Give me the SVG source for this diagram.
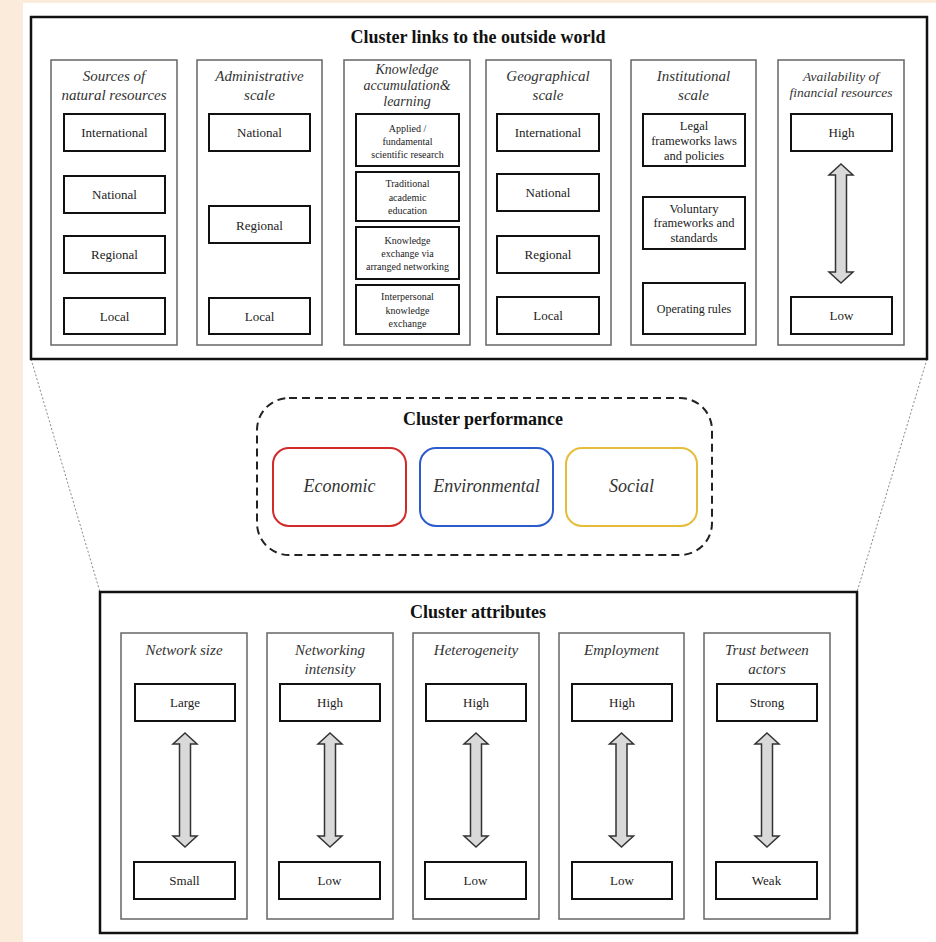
<svg xmlns="http://www.w3.org/2000/svg" width="936" height="942" viewBox="0 0 936 942">
<style>
text{font-family:"Liberation Serif","Times New Roman",serif;fill:#222;text-anchor:middle}
.title{font-weight:bold;font-size:18px;fill:#111}
.ct{font-style:italic;font-size:15px;fill:#333}
.bx{font-size:13px}
.sm{font-size:10px}
.md{font-size:12.5px}
.outer{fill:#fff;stroke:#111;stroke-width:2.5}
.col{fill:#fff;stroke:#666;stroke-width:1.5}
.box{fill:#fff;stroke:#111;stroke-width:2}
.arr{fill:#d9d9d9;stroke:#333;stroke-width:1.5;stroke-linejoin:miter}
.perf{fill:#fff;stroke-width:2}
.pt{font-style:italic;font-size:18px;fill:#333}
.conn{stroke:#888;stroke-width:1;stroke-dasharray:2 2;fill:none}
</style>
<rect x="0" y="0" width="936" height="942" fill="#fbebdb"/>
<rect x="23" y="3" width="913" height="939" fill="#fff"/>

<g id="connectors">
<line class="conn" x1="31" y1="359" x2="100" y2="592"/>
<line class="conn" x1="927" y1="359" x2="857" y2="592"/>
</g>

<g id="links">
<rect class="outer" x="31" y="17" width="896" height="342"/>
<text class="title" x="478" y="43">Cluster links to the outside world</text>
</g>

<g id="col-sources">
<rect class="col" x="51" y="60" width="126" height="285"/>
<text class="ct" x="114" y="81">Sources of</text>
<text class="ct" x="114" y="100">natural resources</text>
<rect class="box" x="64" y="114" width="101" height="37"/><text class="bx" x="114.5" y="137">International</text>
<rect class="box" x="64" y="176" width="101" height="37"/><text class="bx" x="114.5" y="199">National</text>
<rect class="box" x="64" y="236" width="101" height="37"/><text class="bx" x="114.5" y="259">Regional</text>
<rect class="box" x="64" y="298" width="101" height="36"/><text class="bx" x="114.5" y="320.5">Local</text>
</g>

<g id="col-admin">
<rect class="col" x="197" y="60" width="125" height="285"/>
<text class="ct" x="259.5" y="81">Administrative</text>
<text class="ct" x="259.5" y="100">scale</text>
<rect class="box" x="209" y="114" width="101" height="37"/><text class="bx" x="259.5" y="137">National</text>
<rect class="box" x="209" y="206" width="101" height="37"/><text class="bx" x="259.5" y="229.5">Regional</text>
<rect class="box" x="209" y="298" width="101" height="36"/><text class="bx" x="259.5" y="320.5">Local</text>
</g>

<g id="col-knowledge">
<rect class="col" x="344" y="60" width="126" height="285"/>
<text class="ct" x="407" y="74" style="font-size:14px">Knowledge</text>
<text class="ct" x="407" y="90" style="font-size:14px">accumulation&amp;</text>
<text class="ct" x="407" y="106" style="font-size:14px">learning</text>
<rect class="box" x="356" y="114" width="103" height="52"/>
<text class="sm" x="407.5" y="131.5">Applied /</text>
<text class="sm" x="407.5" y="145">fundamental</text>
<text class="sm" x="407.5" y="157.5">scientific  research</text>
<rect class="box" x="356" y="172" width="103" height="49"/>
<text class="sm" x="407.5" y="187">Traditional</text>
<text class="sm" x="407.5" y="201">academic</text>
<text class="sm" x="407.5" y="214">education</text>
<rect class="box" x="356" y="227" width="103" height="52"/>
<text class="sm" x="407.5" y="243.5">Knowledge</text>
<text class="sm" x="407.5" y="257">exchange  via</text>
<text class="sm" x="407.5" y="269.5">arranged networking</text>
<rect class="box" x="356" y="285" width="103" height="49"/>
<text class="sm" x="407.5" y="299.5">Interpersonal</text>
<text class="sm" x="407.5" y="313.5">knowledge</text>
<text class="sm" x="407.5" y="327">exchange</text>
</g>

<g id="col-geo">
<rect class="col" x="486" y="60" width="125" height="285"/>
<text class="ct" x="548" y="81">Geographical</text>
<text class="ct" x="548" y="100">scale</text>
<rect class="box" x="497" y="114" width="102" height="37"/><text class="bx" x="548" y="137">International</text>
<rect class="box" x="497" y="174" width="102" height="37"/><text class="bx" x="548" y="197">National</text>
<rect class="box" x="497" y="236" width="102" height="37"/><text class="bx" x="548" y="259">Regional</text>
<rect class="box" x="497" y="297" width="102" height="37"/><text class="bx" x="548" y="320">Local</text>
</g>

<g id="col-inst">
<rect class="col" x="631" y="60" width="125" height="285"/>
<text class="ct" x="693.5" y="81">Institutional</text>
<text class="ct" x="693.5" y="100">scale</text>
<rect class="box" x="643" y="114" width="102" height="52"/>
<text class="md" x="694" y="130">Legal</text>
<text class="md" x="694" y="144.5">frameworks laws</text>
<text class="md" x="694" y="159.5">and policies</text>
<rect class="box" x="643" y="197" width="102" height="52"/>
<text class="md" x="694" y="212.5">Voluntary</text>
<text class="md" x="694" y="227">frameworks and</text>
<text class="md" x="694" y="242">standards</text>
<rect class="box" x="643" y="283" width="102" height="51"/>
<text class="md" x="694" y="312.5" style="font-size:12px">Operating rules</text>
</g>

<g id="col-finance">
<rect class="col" x="778" y="60" width="126" height="285"/>
<text class="ct" x="841" y="80.5" style="font-size:13.5px">Availability of</text>
<text class="ct" x="841" y="96.5" style="font-size:13.5px">financial resources</text>
<rect class="box" x="791" y="114" width="101" height="37"/><text class="bx" x="841.5" y="137">High</text>
<path class="arr" d="M841 164 L853 175 L846.5 175 L846.5 272 L853 272 L841 283 L829 272 L835.5 272 L835.5 175 L829 175 Z"/>
<rect class="box" x="791" y="297" width="101" height="37"/><text class="bx" x="841.5" y="320">Low</text>
</g>

<g id="performance">
<rect x="257" y="398" width="455" height="157" rx="32" fill="#fff" stroke="#222" stroke-width="2" stroke-dasharray="8 5"/>
<text class="title" x="483" y="425">Cluster performance</text>
</g>
<g id="economic">
<rect class="perf" x="273" y="448" width="133" height="78" rx="16" stroke="#d22a2a"/>
<text class="pt" x="339.5" y="492">Economic</text>
</g>
<g id="environmental">
<rect class="perf" x="420" y="448" width="133" height="78" rx="16" stroke="#2c5ccc"/>
<text class="pt" x="486.5" y="492">Environmental</text>
</g>
<g id="social">
<rect class="perf" x="566" y="448" width="131" height="78" rx="16" stroke="#e6bd3a"/>
<text class="pt" x="631.5" y="492">Social</text>
</g>

<g id="attributes">
<rect class="outer" x="100" y="592" width="757" height="341"/>
<text class="title" x="478" y="618">Cluster attributes</text>
</g>

<g id="attr-size">
<rect class="col" x="121" y="633" width="126" height="286"/>
<text class="ct" x="184" y="655">Network size</text>
<rect class="box" x="135" y="684" width="100" height="37"/><text class="bx" x="185" y="707">Large</text>
<path class="arr" d="M185 733 L197 744 L190.5 744 L190.5 836 L197 836 L185 847 L173 836 L179.5 836 L179.5 744 L173 744 Z"/>
<rect class="box" x="134" y="862" width="101" height="37"/><text class="bx" x="184.5" y="884.5">Small</text>
</g>

<g id="attr-intensity">
<rect class="col" x="267" y="633" width="126" height="286"/>
<text class="ct" x="330" y="655">Networking</text>
<text class="ct" x="330" y="674">intensity</text>
<rect class="box" x="280" y="684" width="100" height="37"/><text class="bx" x="330" y="707">High</text>
<path class="arr" d="M330 733 L342 744 L335.5 744 L335.5 836 L342 836 L330 847 L318 836 L324.5 836 L324.5 744 L318 744 Z"/>
<rect class="box" x="279" y="862" width="101" height="37"/><text class="bx" x="329.5" y="884.5">Low</text>
</g>

<g id="attr-hetero">
<rect class="col" x="413" y="633" width="126" height="286"/>
<text class="ct" x="476" y="655">Heterogeneity</text>
<rect class="box" x="426" y="684" width="100" height="37"/><text class="bx" x="476" y="707">High</text>
<path class="arr" d="M476 733 L488 744 L481.5 744 L481.5 836 L488 836 L476 847 L464 836 L470.5 836 L470.5 744 L464 744 Z"/>
<rect class="box" x="425" y="862" width="101" height="37"/><text class="bx" x="475.5" y="884.5">Low</text>
</g>

<g id="attr-employment">
<rect class="col" x="559" y="633" width="125" height="286"/>
<text class="ct" x="621.5" y="655">Employment</text>
<rect class="box" x="572" y="684" width="100" height="37"/><text class="bx" x="622" y="707">High</text>
<path class="arr" d="M621.5 733 L633.5 744 L627 744 L627 836 L633.5 836 L621.5 847 L609.5 836 L616 836 L616 744 L609.5 744 Z"/>
<rect class="box" x="572" y="862" width="100" height="37"/><text class="bx" x="622" y="884.5">Low</text>
</g>

<g id="attr-trust">
<rect class="col" x="704" y="633" width="126" height="286"/>
<text class="ct" x="767" y="655">Trust between</text>
<text class="ct" x="767" y="674">actors</text>
<rect class="box" x="717" y="684" width="100" height="37"/><text class="bx" x="767" y="707">Strong</text>
<path class="arr" d="M767 733 L779 744 L772.5 744 L772.5 836 L779 836 L767 847 L755 836 L761.5 836 L761.5 744 L755 744 Z"/>
<rect class="box" x="716" y="862" width="101" height="37"/><text class="bx" x="766.5" y="884.5">Weak</text>
</g>
</svg>
